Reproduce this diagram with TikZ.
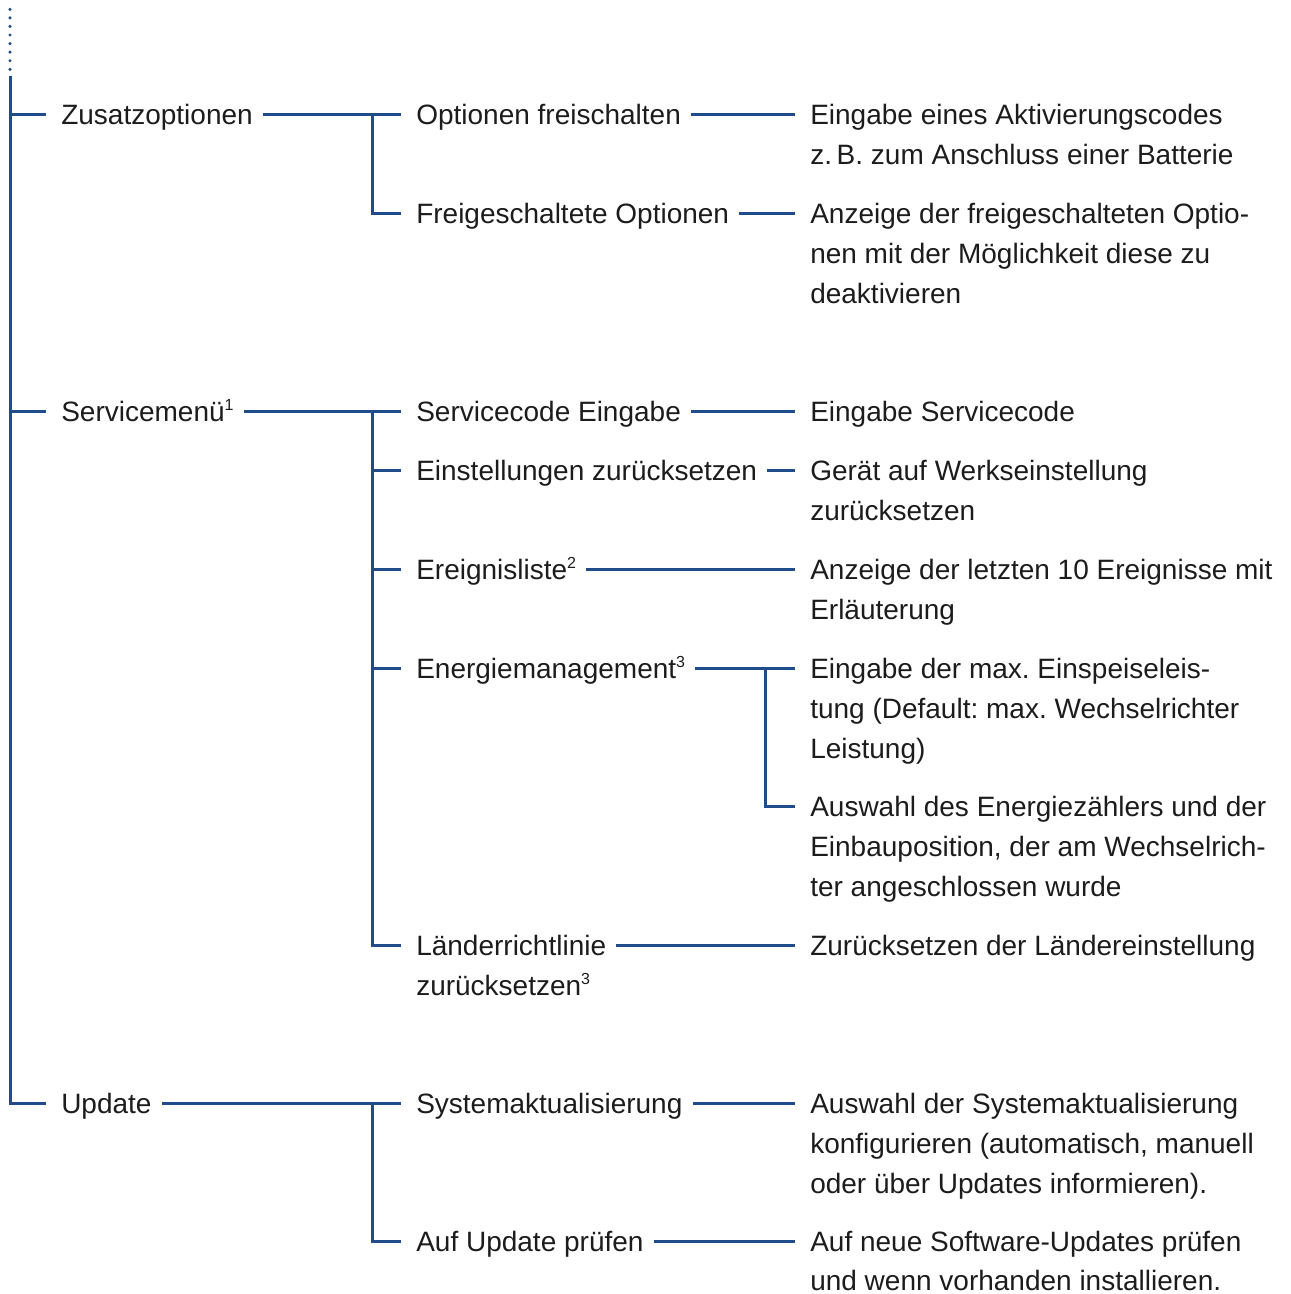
\documentclass[tikz,border=0pt]{standalone}
\usepackage{fontspec}
\setmainfont{Liberation Sans}
\frenchspacing
\definecolor{treeblue}{RGB}{32,76,140}
\definecolor{txtgray}{RGB}{28,28,28}
\newcommand{\fnmark}[1]{\raisebox{0.72ex}{\fontsize{12}{12}\selectfont #1}}
\tikzset{
  lbl/.style={anchor=west, inner sep=0pt, text height=19.5pt, text depth=4.5pt,
    font=\fontsize{21}{30}\selectfont, text=txtgray},
  br/.style={draw=treeblue, line width=2.25pt},
  cn/.style={br, shorten <=7.5pt, shorten >=11.25pt},
}

\begin{document}
\begin{tikzpicture}[x=0.75pt, y=-0.75pt]
  \useasboundingbox (0,0) rectangle (1290,1294);

  \node[lbl] (zus) at (61,115) {Zusatzoptionen};
  \node[lbl] (svc) at (61,411) {Servicemenü\fnmark{1}};
  \node[lbl] (upd) at (61,1103) {Update};

  \node[lbl] (opt) at (416,115) {Optionen freischalten};
  \node[lbl] (frei) at (416,214) {Freigeschaltete Optionen};
  \node[lbl] (scode) at (416,411) {Servicecode Eingabe};
  \node[lbl] (reset) at (416,470) {Einstellungen zurücksetzen};
  \node[lbl] (ereig) at (416,569) {Ereignisliste\fnmark{2}};
  \node[lbl] (energ) at (416,668) {Energiemanagement\fnmark{3}};
  \node[lbl] (laend) at (416,945) {Länderrichtlinie};
  \node[lbl] (laend2) at (416,985) {zurücksetzen\fnmark{3}};
  \node[lbl] (sysakt) at (416,1103) {Systemaktualisierung};
  \node[lbl] (check) at (416,1241) {Auf Update prüfen};

  \node[lbl] (d1) at (810,115) {Eingabe eines Aktivierungscodes};
  \node[lbl] (d1b) at (810,155) {z.\,B. zum Anschluss einer Batterie};
  \node[lbl] (d2) at (810,214) {Anzeige der freigeschalteten Optio-};
  \node[lbl] (d2b) at (810,254) {nen mit der Möglichkeit diese zu};
  \node[lbl] (d2c) at (810,294) {deaktivieren};
  \node[lbl] (d3) at (810,411) {Eingabe Servicecode};
  \node[lbl] (d4) at (810,470) {Gerät auf Werkseinstellung};
  \node[lbl] (d4b) at (810,510) {zurücksetzen};
  \node[lbl] (d5) at (810,569) {Anzeige der letzten 10 Ereignisse mit};
  \node[lbl] (d5b) at (810,609) {Erläuterung};
  \node[lbl] (d6) at (810,668) {Eingabe der max. Einspeiseleis-};
  \node[lbl] (d6b) at (810,708) {tung (Default: max. Wechselrichter};
  \node[lbl] (d6c) at (810,748) {Leistung)};
  \node[lbl] (d7) at (810,806) {Auswahl des Energiezählers und der};
  \node[lbl] (d7b) at (810,846) {Einbauposition, der am Wechselrich-};
  \node[lbl] (d7c) at (810,886) {ter angeschlossen wurde};
  \node[lbl] (d8) at (810,945) {Zurücksetzen der Ländereinstellung};
  \node[lbl] (d9) at (810,1103) {Auswahl der Systemaktualisierung};
  \node[lbl] (d9b) at (810,1143) {konfigurieren (automatisch, manuell};
  \node[lbl] (d9c) at (810,1183) {oder über Updates informieren).};
  \node[lbl] (d10) at (810,1241) {Auf neue Software-Updates prüfen};
  \node[lbl, anchor=base west, text depth=0pt] (d10b) at (810,1290.5) {und wenn vorhanden installieren.};

  \coordinate (top) at (10,76);
  \coordinate (j1) at (372,115);
  \coordinate (j2) at (372,411);
  \coordinate (j3) at (372,1103);
  \coordinate (j4) at (765,668);

  \draw[treeblue, line width=2.6pt, line cap=round, dash pattern=on 0pt off 6.43pt] (10,9.3) -- (10,72);
  \draw[br] (top) |- ([xshift=-11.25pt]upd.west);
  \draw[br] (top |- zus.west) -- ([xshift=-11.25pt]zus.west);
  \draw[br] (top |- svc.west) -- ([xshift=-11.25pt]svc.west);

  \draw[cn] (zus) -- (opt);
  \draw[br] (j1) |- ([xshift=-11.25pt]frei.west);
  \draw[cn] (svc) -- (scode);
  \draw[br] (j2) |- ([xshift=-11.25pt]laend.west);
  \draw[br] (j2 |- reset.west) -- ([xshift=-11.25pt]reset.west);
  \draw[br] (j2 |- ereig.west) -- ([xshift=-11.25pt]ereig.west);
  \draw[br] (j2 |- energ.west) -- ([xshift=-11.25pt]energ.west);
  \draw[cn] (upd) -- (sysakt);
  \draw[br] (j3) |- ([xshift=-11.25pt]check.west);

  \draw[cn] (opt) -- (d1);
  \draw[cn] (frei) -- (d2);
  \draw[cn] (scode) -- (d3);
  \draw[cn] (reset) -- (d4);
  \draw[cn] (ereig) -- (d5);
  \draw[cn] (energ) -- (d6);
  \draw[br] (j4) |- ([xshift=-11.25pt]d7.west);
  \draw[cn] (laend) -- (d8);
  \draw[cn] (sysakt) -- (d9);
  \draw[cn] (check) -- (d10);
\end{tikzpicture}
\end{document}
